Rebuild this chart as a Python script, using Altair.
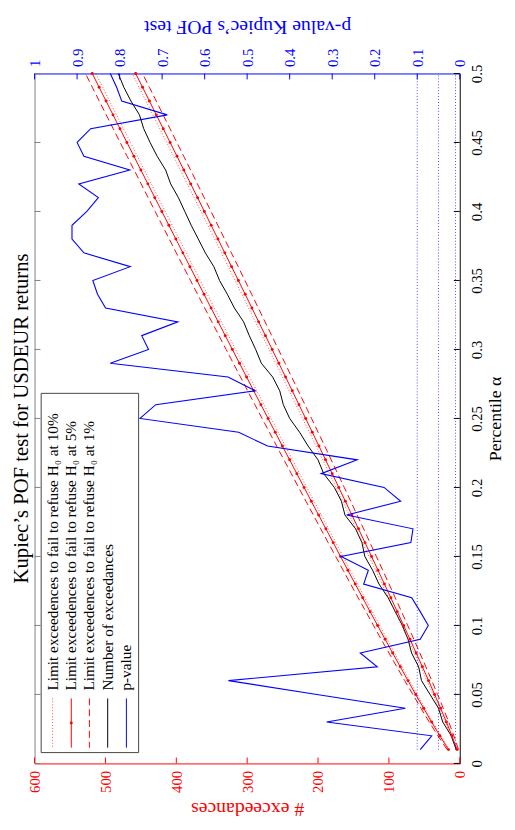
import altair as alt
import pandas as pd

# ---------------- data ----------------
ALPHA = [0.01, 0.02, 0.03, 0.04, 0.05, 0.06, 0.07, 0.08, 0.09, 0.10,
         0.11, 0.12, 0.13, 0.14, 0.15, 0.16, 0.17, 0.18, 0.19, 0.20,
         0.21, 0.22, 0.23, 0.24, 0.25, 0.26, 0.27, 0.28, 0.29, 0.30,
         0.31, 0.32, 0.33, 0.34, 0.35, 0.36, 0.37, 0.38, 0.39, 0.40,
         0.41, 0.42, 0.43, 0.44, 0.45, 0.46, 0.47, 0.48, 0.49, 0.50]

LIM10_LO = [4.6, 12.3, 20.5, 29.0, 37.6, 46.4, 55.2, 64.1, 73.1, 82.2,
            91.3, 100.4, 109.6, 118.8, 128.1, 137.3, 146.6, 155.9, 165.3, 174.6,
            184.0, 193.4, 202.9, 212.3, 221.8, 231.2, 240.7, 250.2, 259.7, 269.3,
            278.8, 288.4, 297.9, 307.5, 317.1, 326.7, 336.3, 345.9, 355.6, 365.2,
            374.9, 384.6, 394.2, 403.9, 413.6, 423.4, 433.1, 442.8, 452.6, 462.3]
LIM10_HI = [14.9, 26.7, 38.1, 49.1, 60.0, 70.8, 81.4, 92.0, 102.6, 113.0,
            123.4, 133.8, 144.2, 154.5, 164.8, 175.0, 185.2, 195.4, 205.6, 215.8,
            225.9, 236.0, 246.1, 256.2, 266.3, 276.3, 286.3, 296.4, 306.4, 316.4,
            326.3, 336.3, 346.3, 356.2, 366.1, 376.0, 385.9, 395.8, 405.7, 415.6,
            425.4, 435.3, 445.1, 455.0, 464.8, 474.6, 484.4, 494.2, 503.9, 513.7]
LIM5_LO = [3.7, 11.0, 18.8, 27.0, 35.5, 44.0, 52.7, 61.5, 70.3, 79.2,
           88.2, 97.2, 106.3, 115.4, 124.5, 133.7, 142.9, 152.2, 161.4, 170.7,
           180.0, 189.4, 198.7, 208.1, 217.5, 226.9, 236.3, 245.8, 255.3, 264.7,
           274.2, 283.8, 293.3, 302.8, 312.4, 322.0, 331.6, 341.2, 350.8, 360.4,
           370.0, 379.7, 389.4, 399.0, 408.7, 418.4, 428.2, 437.9, 447.6, 457.4]
LIM5_HI = [15.9, 28.1, 39.7, 51.0, 62.2, 73.1, 83.9, 94.7, 105.4, 116.0,
           126.5, 137.0, 147.5, 157.9, 168.3, 178.6, 188.9, 199.2, 209.5, 219.7,
           229.9, 240.1, 250.3, 260.4, 270.5, 280.6, 290.7, 300.8, 310.8, 320.9,
           330.9, 340.9, 350.9, 360.9, 370.8, 380.8, 390.7, 400.6, 410.5, 420.4,
           430.3, 440.1, 450.0, 459.8, 469.7, 479.5, 489.3, 499.1, 508.9, 518.6]
LIM1_LO = [1.8, 8.3, 15.6, 23.3, 31.3, 39.5, 47.8, 56.3, 64.8, 73.5,
           82.2, 91.0, 99.8, 108.7, 117.7, 126.7, 135.7, 144.8, 153.9, 163.0,
           172.2, 181.4, 190.6, 199.9, 209.2, 218.5, 227.8, 237.2, 246.5, 255.9,
           265.3, 274.8, 284.2, 293.7, 303.2, 312.7, 322.3, 331.8, 341.4, 351.0,
           360.6, 370.2, 379.8, 389.5, 399.2, 408.9, 418.6, 428.3, 438.0, 447.8]
LIM1_HI = [17.8, 30.8, 43.0, 54.8, 66.3, 77.7, 88.9, 99.9, 110.9, 121.7,
           132.5, 143.3, 154.0, 164.6, 175.1, 185.7, 196.2, 206.6, 217.0, 227.4,
           237.7, 248.1, 258.4, 268.6, 278.9, 289.1, 299.3, 309.4, 319.6, 329.7,
           339.8, 349.9, 359.9, 370.0, 380.0, 390.0, 400.0, 409.9, 419.9, 429.8,
           439.7, 449.6, 459.5, 469.4, 479.2, 489.1, 498.9, 508.7, 518.5, 528.2]

EXCEEDANCES = [5, 12, 24, 30, 42, 54, 58, 68, 73, 81,
               91, 101, 114, 123, 134, 138, 147, 162, 167, 177,
               192, 200, 214, 226, 240, 249, 254, 264, 280, 288,
               297, 305, 318, 328, 339, 347, 359, 369, 379, 388,
               397, 408, 415, 427, 437, 446, 452, 464, 474, 482]

PVALUE = [0.093, 0.066, 0.313, 0.128, 0.336, 0.544, 0.194, 0.234, 0.093, 0.074,
          0.093, 0.113, 0.226, 0.215, 0.279, 0.115, 0.110, 0.266, 0.139, 0.178,
          0.326, 0.241, 0.452, 0.520, 0.752, 0.715, 0.481, 0.545, 0.822, 0.732,
          0.748, 0.663, 0.833, 0.852, 0.863, 0.775, 0.884, 0.912, 0.912, 0.877,
          0.850, 0.896, 0.776, 0.884, 0.900, 0.868, 0.688, 0.795, 0.807, 0.822]

P_LEVELS = [0.1, 0.05, 0.01]
P_LEVEL_ALPHA = [0.01, 0.50]

EXC_TICKS = [0, 100, 200, 300, 400, 500, 600]
P_TICKS = [0, 0.1, 0.2, 0.3, 0.4, 0.5, 0.6, 0.7, 0.8, 0.9, 1]
ALPHA_TICKS = [0, 0.05, 0.1, 0.15, 0.2, 0.25, 0.3, 0.35, 0.4, 0.45, 0.5]

LEGEND_LABELS = [
    "Limit exceedences to fail to refuse H\u2080 at 10%",
    "Limit exceedences to fail to refuse H\u2080 at 5%",
    "Limit exceedences to fail to refuse H\u2080 at 1%",
    "Number of exceedances",
    "p-value",
]

TITLE = "Kupiec\u2019s POF test for USDEUR returns"

# ---------------- styling ----------------
RED = "#ff0000"
BLUE = "#0000ff"
FONT = "Liberation Serif"
W, H = 432, 701
LABEL_SIZE = 15
AXIS_TITLE_SIZE = 20


def lim_frame(lo, hi):
    rows = []
    for b, vals in (("lo", lo), ("hi", hi)):
        for a, v in zip(ALPHA, vals):
            rows.append({"alpha": a, "exc": v, "bound": b})
    return pd.DataFrame(rows)


lim10_df = lim_frame(LIM10_LO, LIM10_HI)
lim5_df = lim_frame(LIM5_LO, LIM5_HI)
lim1_df = lim_frame(LIM1_LO, LIM1_HI)
exc_df = pd.DataFrame({"alpha": ALPHA, "exc": EXCEEDANCES})
p_df = pd.DataFrame({"alpha": ALPHA, "p": PVALUE})
plev_df = pd.DataFrame([{"level": l, "alpha": a, "p": l} for l in P_LEVELS for a in P_LEVEL_ALPHA])
exc_tick_df = pd.DataFrame({"exc": EXC_TICKS})
p_tick_df = pd.DataFrame({"p": P_TICKS})
alpha_tick_df = pd.DataFrame({"alpha": ALPHA_TICKS})


def exc_scale():
    return alt.Scale(domain=[0, 600], reverse=True, nice=False, zero=True)


def p_scale():
    return alt.Scale(domain=[0, 1], reverse=True, nice=False, zero=True)


def a_scale():
    return alt.Scale(domain=[0, 0.5], nice=False, zero=True)


exc_axis = alt.Axis(orient="bottom", values=EXC_TICKS, format="d", ticks=False, grid=False,
                    domain=True, domainColor=RED, domainWidth=1, labelColor=RED, labelAngle=270,
                    labelFont=FONT, labelFontSize=LABEL_SIZE, labelPadding=7,
                    title="# exceedances", titleColor=RED, titleFont=FONT,
                    titleFontSize=AXIS_TITLE_SIZE,
                    titleFontWeight="normal", titleAngle=180, titleBaseline="bottom",
                    titlePadding=6)
p_axis = alt.Axis(orient="top", values=P_TICKS, format="~g", ticks=False, grid=False,
                  domain=True, domainColor=BLUE, domainWidth=1, labelColor=BLUE, labelAngle=270,
                  labelFont=FONT, labelFontSize=LABEL_SIZE, labelPadding=7,
                  title="p-value Kupiec\u2019s POF test", titleColor=BLUE, titleFont=FONT,
                  titleFontSize=AXIS_TITLE_SIZE, titleFontWeight="normal", titleAngle=180,
                  titleBaseline="top", titlePadding=12)
a_axis = alt.Axis(orient="right", values=ALPHA_TICKS, format="~g", ticks=False, grid=False,
                  domain=True, domainColor="black", domainWidth=1, labelColor="black", labelAngle=270,
                  labelFont=FONT, labelFontSize=LABEL_SIZE, labelPadding=10,
                  title="Percentile \u03b1", titleColor="black", titleFont=FONT,
                  titleFontSize=18, titleFontWeight="normal", titleAngle=270,
                  titleBaseline="top", titlePadding=2)
a_axis_left = alt.Axis(orient="left", labels=False, ticks=False, grid=False, domain=True,
                       domainColor="#808080", domainWidth=1, title=None)


def XE(axis=None):
    return alt.X("exc:Q", scale=exc_scale(), axis=axis)


def XP(axis=None):
    return alt.X("p:Q", scale=p_scale(), axis=axis)


def YA(axis=None):
    return alt.Y("alpha:Q", scale=a_scale(), axis=axis)


ORD = alt.Order("alpha:Q")

# ---------------- layers ----------------
black = alt.Chart(exc_df).mark_line(color="black", strokeWidth=1).encode(
    x=XE(exc_axis), y=YA(a_axis), order=ORD)
lim10 = alt.Chart(lim10_df).mark_line(color=RED, strokeWidth=1, strokeDash=[1, 2], opacity=0.7).encode(
    x=XE(), y=YA(), detail="bound:N", order=ORD)
lim5 = alt.Chart(lim5_df).mark_line(color=RED, strokeWidth=1).encode(
    x=XE(), y=YA(), detail="bound:N", order=ORD)
lim5_pts = alt.Chart(lim5_df).mark_circle(color=RED, size=9, opacity=1).encode(
    x=XE(), y=YA())
lim1 = alt.Chart(lim1_df).mark_line(color=RED, strokeWidth=1, strokeDash=[7, 4]).encode(
    x=XE(), y=YA(), detail="bound:N", order=ORD)

exc_ticks = alt.Chart(exc_tick_df).mark_rule(color=RED, strokeWidth=1, y2Offset=-6).encode(
    x=XE(),
    y=alt.YDatum(0, scale=a_scale(), axis=None),
    y2=alt.Y2Datum(0))
a_ticks_r = alt.Chart(alpha_tick_df).mark_rule(color="black", strokeWidth=1, x2Offset=-6).encode(
    y=YA(),
    x=alt.XDatum(0, scale=exc_scale(), axis=None),
    x2=alt.X2Datum(0))
a_ticks_l = alt.Chart(alpha_tick_df).mark_rule(color="#808080", strokeWidth=1, x2Offset=6).encode(
    y=YA(),
    x=alt.XDatum(600, scale=exc_scale(), axis=None),
    x2=alt.X2Datum(600))

blue = alt.Chart(p_df).mark_line(color=BLUE, strokeWidth=1.1).encode(
    x=XP(p_axis), y=YA(a_axis_left), order=ORD)
plines = alt.Chart(plev_df).mark_line(color=BLUE, strokeWidth=1, strokeDash=[1, 2], opacity=0.7).encode(
    x=XP(), y=YA(), detail="level:N", order=ORD)
p_ticks = alt.Chart(p_tick_df).mark_rule(color=BLUE, strokeWidth=1, y2Offset=6).encode(
    x=XP(),
    y=alt.YDatum(0.5, scale=a_scale(), axis=None),
    y2=alt.Y2Datum(0.5))

# ---------------- legend (drawn by hand, rotated) ----------------
LEG_X = [18.3, 37.3, 55.7, 74.3, 93.3]
one = pd.DataFrame({"k": [0]})
leg_box = alt.Chart(one).mark_rect(fill="white", stroke="#444444", strokeWidth=1).encode(
    x=alt.value(6.7), x2=alt.value(105.7), y=alt.value(325), y2=alt.value(690))
leg_styles = [
    dict(color=RED, strokeDash=[1, 2], opacity=0.7),
    dict(color=RED),
    dict(color=RED, strokeDash=[7, 4]),
    dict(color="black"),
    dict(color=BLUE),
]
leg_parts = [leg_box]
for i, (lab, st) in enumerate(zip(LEGEND_LABELS, leg_styles)):
    leg_parts.append(alt.Chart(one).mark_rule(strokeWidth=1, **st).encode(
        x=alt.value(LEG_X[i]), y=alt.value(635), y2=alt.value(685)))
    leg_parts.append(alt.Chart(pd.DataFrame({"label": [lab]})).mark_text(
        angle=270, align="left", baseline="middle", font=FONT, fontSize=15.5, color="black").encode(
        x=alt.value(LEG_X[i]), y=alt.value(627), text="label:N"))
leg_parts.append(alt.Chart(one).mark_circle(color=RED, size=9, opacity=1).encode(
    x=alt.value(LEG_X[1]), y=alt.value(660)))

chart = alt.layer(
    black, lim10, lim5, lim5_pts, lim1, exc_ticks, a_ticks_r, a_ticks_l,
    blue, plines, p_ticks, *leg_parts
).resolve_scale(x="independent").resolve_axis(x="independent", y="independent").properties(
    width=W, height=H,
    title=alt.TitleParams(TITLE, orient="left", anchor="middle", font=FONT, fontSize=21,
                          fontWeight="normal", color="black", offset=-4),
    autosize=alt.AutoSizeParams(type="none"),
    padding={"left": 27, "top": 60, "right": 48, "bottom": 53},
).configure_view(stroke=None)

chart.save("out.html", embed_options={"renderer": "svg", "actions": False})
